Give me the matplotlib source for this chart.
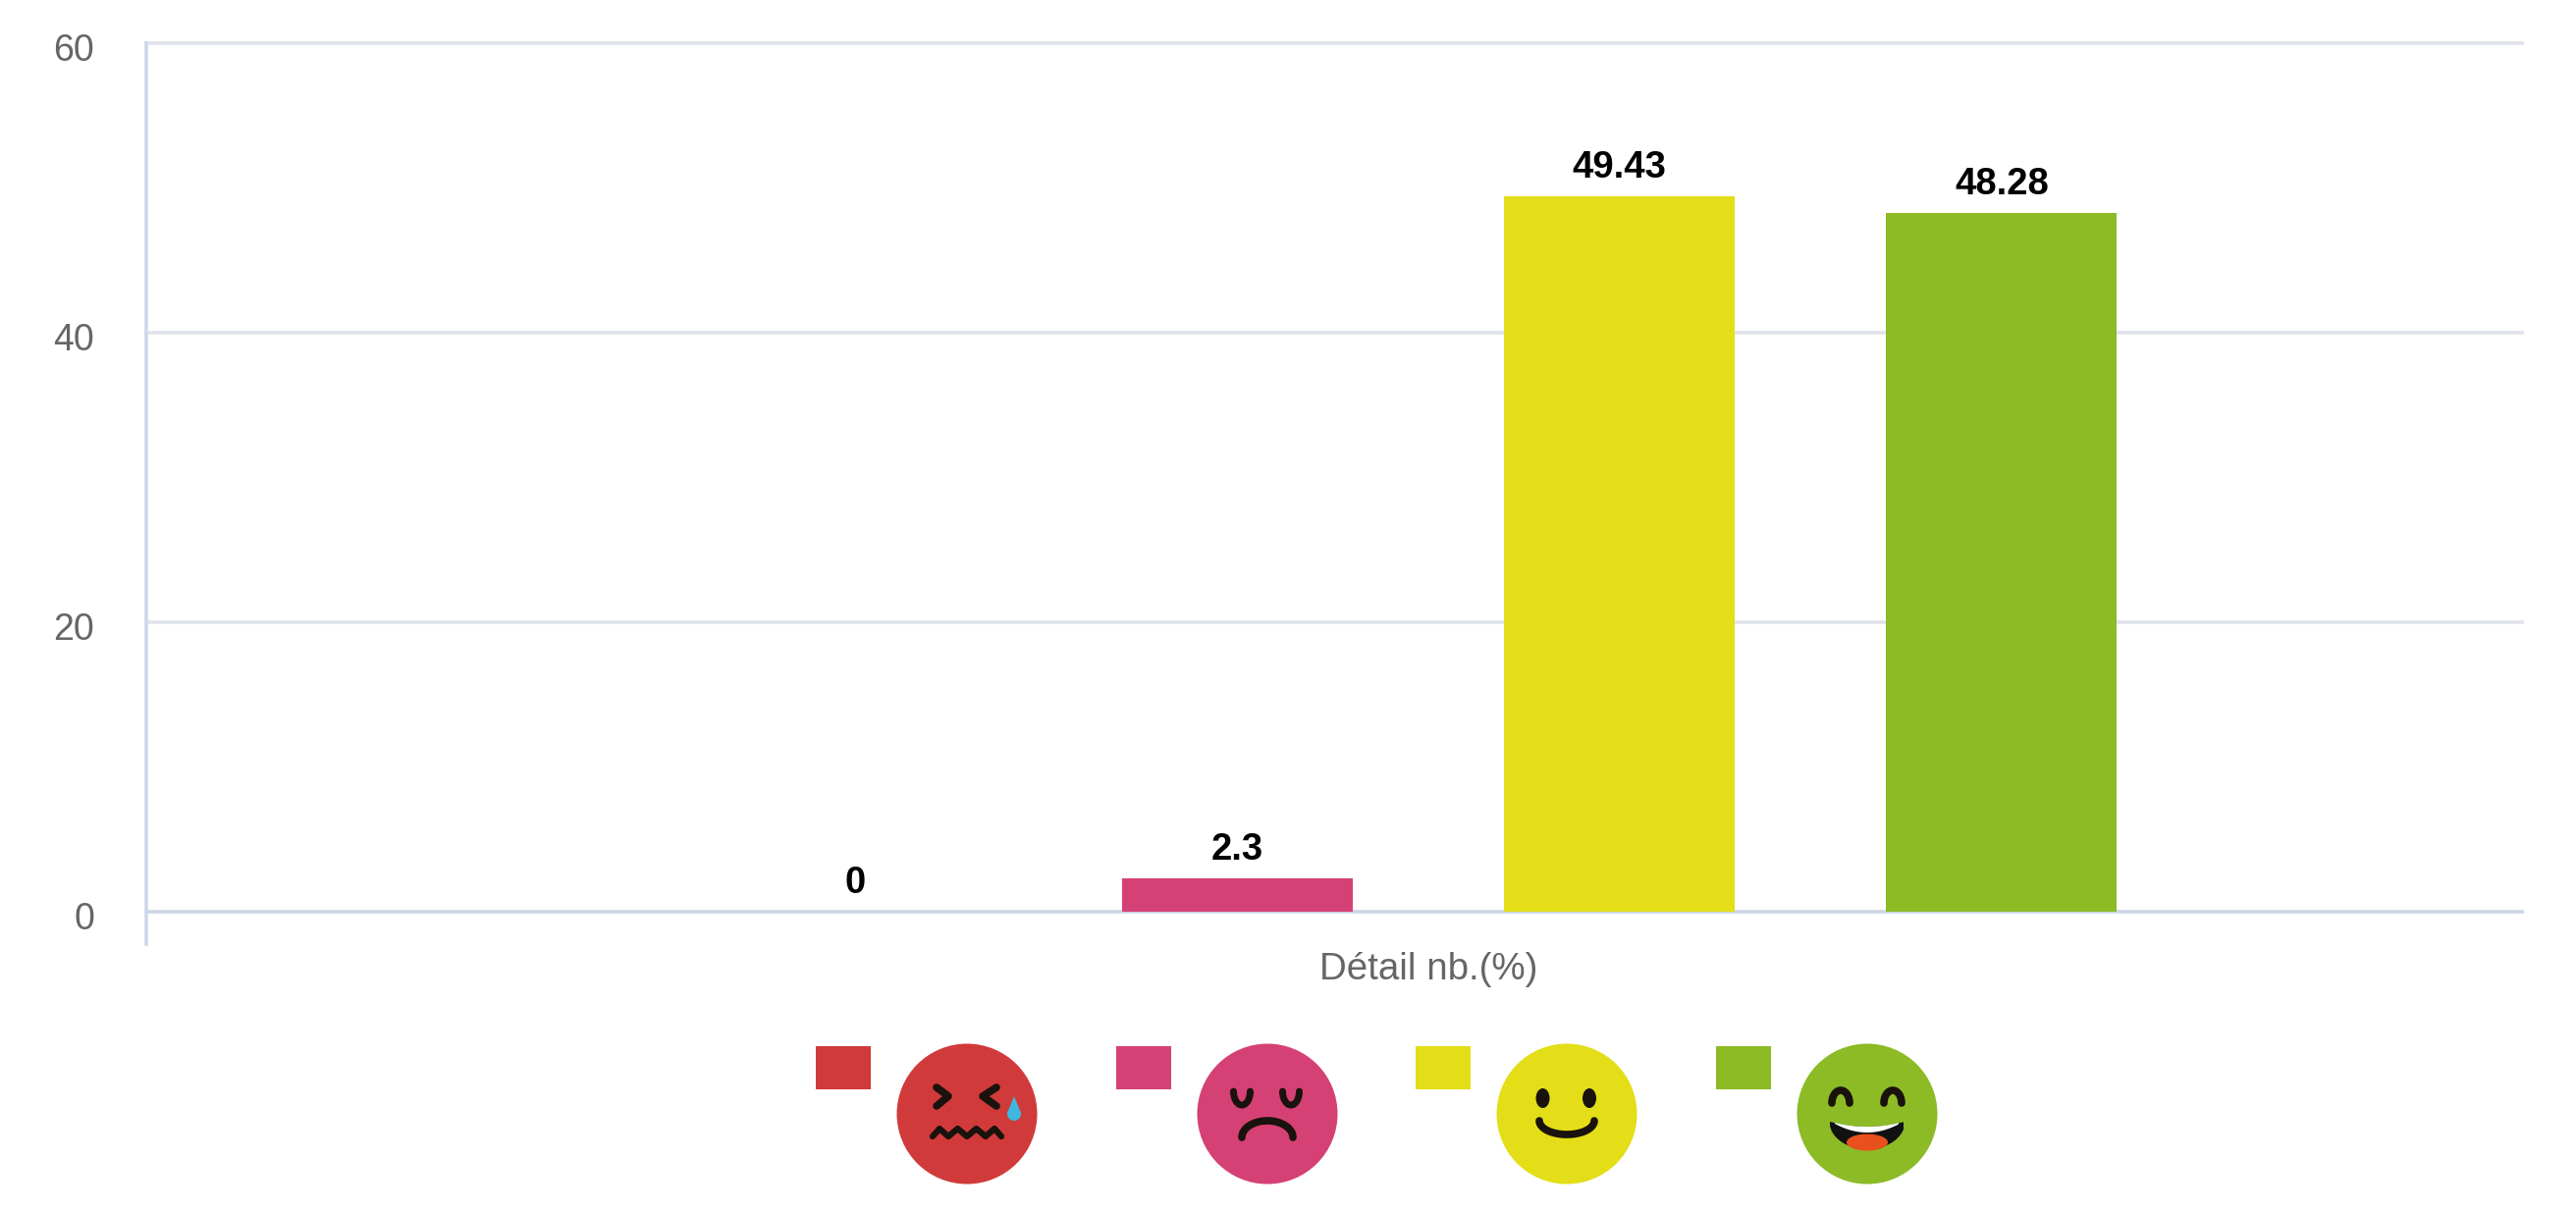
import numpy as np
import matplotlib
matplotlib.use("Agg")
import matplotlib.pyplot as plt
from matplotlib.patches import Rectangle, Circle, Ellipse, Polygon
from matplotlib.transforms import ScaledTranslation

categories = ["Très mécontent", "Mécontent", "Satisfait", "Très satisfait"]
values = [0, 2.3, 49.43, 48.28]
value_labels = ["0", "2.3", "49.43", "48.28"]
colors = ["#d13a3a", "#d54175", "#e3de17", "#8cbb26"]
y_ticks = [0, 20, 40, 60]
x_label = "Détail nb.(%)"

W, H = 2624, 1236
plt.rcParams["font.family"] = ["Liberation Sans", "DejaVu Sans"]
fig = plt.figure(figsize=(W / 100, H / 100), dpi=100, facecolor="white")

L, R, T, B = 149, 2569, 44, 962
ax = fig.add_axes([L / W, 1 - B / H, (R - L) / W, (B - T) / H])
ax.set_xlim(-1.855, 4.362)
ax.set_ylim(-2.237, 60)
ax.set_axisbelow(True)
for s in ("top", "right", "bottom"):
    ax.spines[s].set_visible(False)
ax.spines["left"].set_color("#cfd8ea")
ax.spines["left"].set_linewidth(2.6)

ax.bar(range(len(values)), values, width=0.604, color=colors, linewidth=0, zorder=3)
for i, (v, t) in enumerate(zip(values, value_labels)):
    ax.annotate(t, xy=(i, v), xytext=(0, 13.5), textcoords="offset points",
                ha="center", va="baseline", fontsize=27.5, fontweight="bold",
                color="black", zorder=4)

ax.set_yticks(y_ticks)
ax.set_yticklabels([str(t) for t in y_ticks])
ax.tick_params(axis="y", length=0, pad=38, labelsize=27, labelcolor="#666666")
offset = ScaledTranslation(0, -4 / 100, fig.dpi_scale_trans)
for lab in ax.get_yticklabels():
    lab.set_transform(lab.get_transform() + offset)
ax.yaxis.grid(True, color="#dfe3ec", linewidth=2.6)
for tick, gl in zip(y_ticks, ax.get_ygridlines()):
    gl.set_clip_on(False)
    if tick == 0:
        gl.set_color("#cdd6e5")

ax.set_xticks([1.5])
ax.set_xticklabels([x_label])
ax.tick_params(axis="x", length=0, pad=6, labelsize=27.7, labelcolor="#666666")

# ---- legend drawn as pictograms, in pixel space
ov = fig.add_axes([0, 0, 1, 1], facecolor="none")
ov.set_xlim(0, W)
ov.set_ylim(H, 0)
ov.axis("off")
FACE_X = [985, 1291, 1596, 1902]
FACE_Y, FACE_R = 1135, 71.5
SW, SH = 56, 44
INK = "#1a120c"
LW = 5.0


def stroke(cx, xs, ys, lw=LW):
    ov.plot(cx + np.asarray(xs), FACE_Y + np.asarray(ys), color=INK, lw=lw,
            solid_capstyle="round", solid_joinstyle="round", zorder=5)


def half_ellipse(cx, x0, y0, rx, ry, lw=LW):
    t = np.linspace(0, np.pi, 40)
    stroke(cx, x0 + rx * np.cos(t), y0 + ry * np.sin(t), lw)


for fx, col in zip(FACE_X, colors):
    ov.add_patch(Rectangle((fx - 154.5, 1065.5), SW, SH, color=col, lw=0))
    ov.add_patch(Circle((fx, FACE_Y), FACE_R, color=col, lw=0))

# very unhappy
c = FACE_X[0]
stroke(c, [-31, -19, -31], [-27, -18, -8], lw=5.5)
stroke(c, [30, 16, 30], [-27, -18, -8], lw=5.5)
stroke(c, [-35, -28, -19, -9.5, 0, 9.5, 19, 28, 35],
       [23, 15, 23, 15, 23, 15, 23, 15, 23], lw=4.5)
t = np.linspace(-0.2 * np.pi, 1.2 * np.pi, 30)
drop = np.column_stack([c + 48 + 7 * np.cos(t), FACE_Y + 0 + 7 * np.sin(t)])
ov.add_patch(Polygon(np.vstack([drop, [c + 48, FACE_Y - 18]]), color="#3fb8e0", lw=0, zorder=6))

# unhappy
c = FACE_X[1]
half_ellipse(c, -26, -23, 8.5, 14)
half_ellipse(c, 24, -23, 8.5, 14)
half_ellipse(c, 0, 24, 26, -17, lw=5.5)

# happy
c = FACE_X[2]
ov.add_patch(Ellipse((c - 24.5, FACE_Y - 16), 14, 20, color=INK, lw=0, zorder=5))
ov.add_patch(Ellipse((c + 23, FACE_Y - 16), 14, 20, color=INK, lw=0, zorder=5))
half_ellipse(c, 0, 7, 28, 14, lw=5.5)

# very happy
c = FACE_X[3]
half_ellipse(c, -27, -11, 9, -13, lw=5.5)
half_ellipse(c, 26, -11, 9, -13, lw=5.5)
xs = np.linspace(-38, 37, 40)
top = 8 + 5 * (1 - (xs / 38) ** 2)
bot = 8 + 28 * np.sqrt(np.clip(1 - (xs / 38.5) ** 2, 0, 1))
ov.add_patch(Polygon(np.column_stack([c + np.r_[xs, xs[::-1]], FACE_Y + np.r_[top, bot[::-1]]]),
                     color="#111111", lw=0, zorder=5))
xs2 = np.linspace(-33, 32, 30)
top2 = 9 + 4 * (1 - (xs2 / 33) ** 2)
bot2 = 10 + 9 * (1 - (xs2 / 33) ** 2)
ov.add_patch(Polygon(np.column_stack([c + np.r_[xs2, xs2[::-1]], FACE_Y + np.r_[top2, bot2[::-1]]]),
                     color="white", lw=0, zorder=6))
ov.add_patch(Ellipse((c, FACE_Y + 29), 42, 17, color="#e8501e", lw=0, zorder=6))

fig.savefig("out.png", dpi=100)
